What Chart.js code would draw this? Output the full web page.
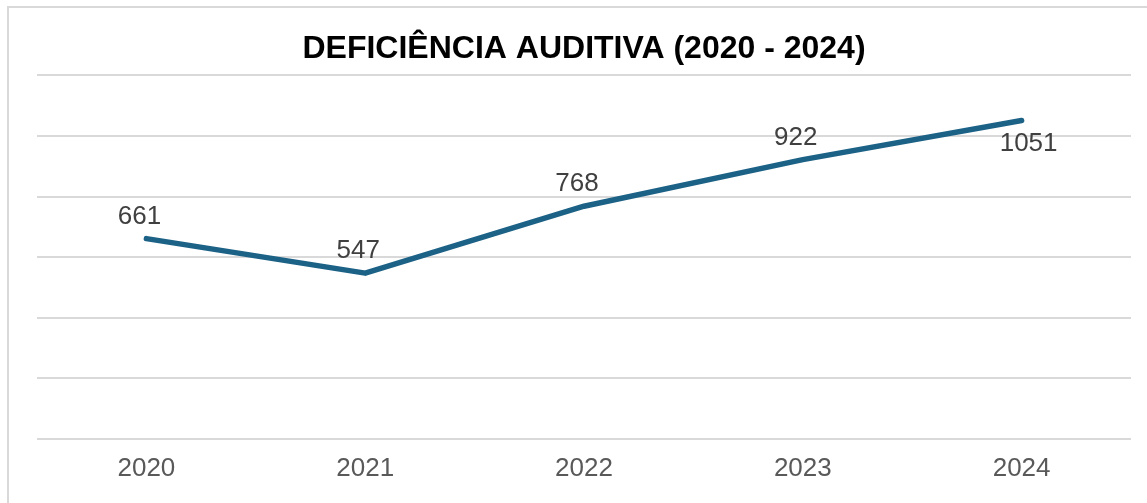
<!DOCTYPE html>
<html>
<head>
<meta charset="utf-8">
<script src="https://cdn.jsdelivr.net/npm/chart.js@4/dist/chart.umd.min.js"></script>
<style>
html,body{margin:0;padding:0;background:#fff;}
#wrap{position:absolute;left:0;top:0;width:1147px;height:503px;}
</style>
</head>
<body>
<div id="wrap"><canvas id="c" width="1147" height="503"></canvas></div>
<script>
const categories = ['2020', '2021', '2022', '2023', '2024'];
const values = [661, 547, 768, 922, 1051];
const yTicks = [0, 200, 400, 600, 800, 1000, 1200];
const labelBelow = [false, false, false, false, true];
const chartTitle = 'DEFICIÊNCIA AUDITIVA (2020 - 2024)';

const framePlugin = {
  id: 'frame',
  beforeDraw(chart) {
    const ctx = chart.ctx;
    ctx.save();
    ctx.strokeStyle = '#d9d9d9';
    ctx.lineWidth = 2;
    ctx.beginPath();
    ctx.moveTo(8, 520);
    ctx.lineTo(8, 7);
    ctx.lineTo(1160, 7);
    ctx.stroke();
    ctx.restore();
  }
};

const valueLabels = {
  id: 'valueLabels',
  afterDatasetsDraw(chart) {
    const ctx = chart.ctx;
    const meta = chart.getDatasetMeta(0);
    ctx.save();
    ctx.font = '26px "Liberation Sans", Arial, sans-serif';
    ctx.fillStyle = '#404040';
    ctx.textAlign = 'center';
    ctx.textBaseline = 'middle';
    meta.data.forEach((pt, i) => {
      const below = labelBelow[i];
      const dx = below ? 7 : -7;
      const dy = below ? 23 : -22;
      ctx.fillText(String(values[i]), pt.x + dx, pt.y + dy);
    });
    ctx.restore();
  }
};

new Chart(document.getElementById('c'), {
  type: 'line',
  data: {
    labels: categories,
    datasets: [{
      data: values,
      borderColor: '#1c6186',
      borderWidth: 5.5,
      pointRadius: 0,
      pointHoverRadius: 0,
      tension: 0,
      fill: false,
      borderCapStyle: 'round',
      borderJoinStyle: 'round'
    }]
  },
  options: {
    responsive: false,
    animation: false,
    layout: { padding: { left: 37, right: 16, top: 0, bottom: 5 } },
    plugins: {
      legend: { display: false },
      tooltip: { enabled: false },
      title: {
        display: true,
        text: chartTitle,
        color: '#000000',
        font: { family: '"Liberation Sans", Arial, sans-serif', size: 32, weight: 'bold', lineHeight: 1.2 },
        padding: { top: 30, bottom: 7 }
      }
    },
    scales: {
      x: {
        offset: true,
        grid: { display: false, drawTicks: false },
        border: { display: false },
        ticks: {
          color: '#595959',
          padding: 14,
          font: { family: '"Liberation Sans", Arial, sans-serif', size: 26 }
        }
      },
      y: {
        min: yTicks[0],
        max: yTicks[yTicks.length - 1],
        afterBuildTicks(scale) { scale.ticks = yTicks.map(v => ({ value: v })); },
        grid: { color: '#d9d9d9', lineWidth: 2, drawTicks: false },
        border: { display: false },
        ticks: { display: false }
      }
    }
  },
  plugins: [framePlugin, valueLabels]
});
</script>
</body>
</html>
